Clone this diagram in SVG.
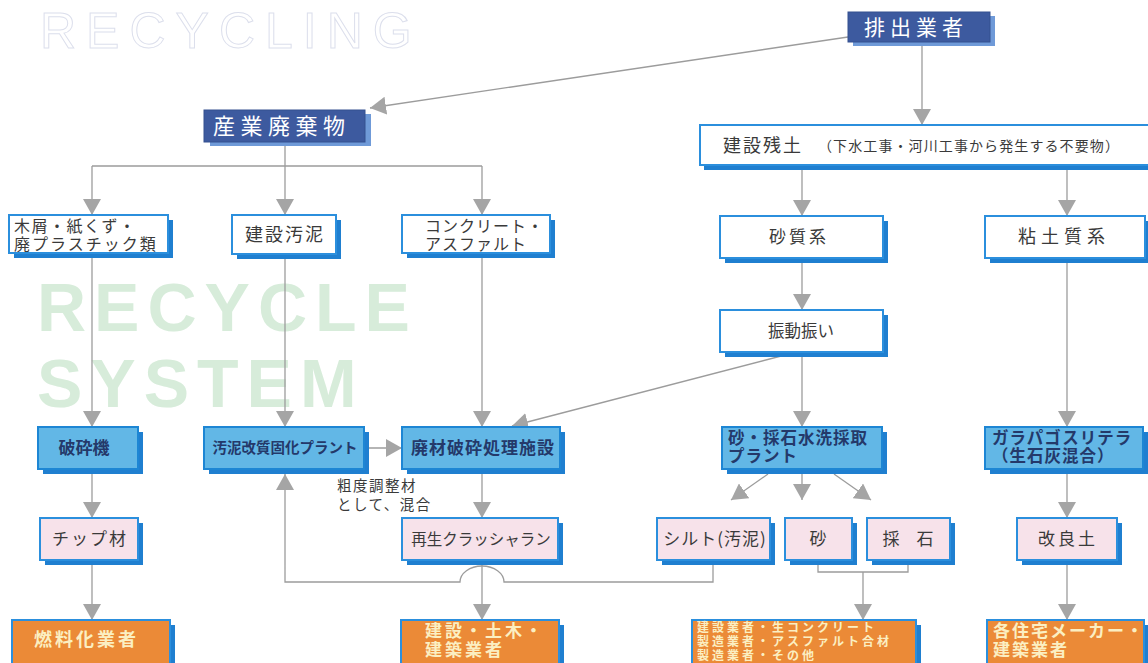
<svg xmlns="http://www.w3.org/2000/svg" width="1148" height="663" viewBox="0 0 1148 663">
<style>
.ln{stroke:#9c9c9c;stroke-width:1.3;fill:none}
.sh{fill:#1f7fd0}
.dsh{fill:#6f9ad8}
.dbox{fill:#3d5a9f;stroke:#34508f;stroke-width:1}
.wbox{fill:#ffffff;stroke:#2b8fdd;stroke-width:2}
.lbox{fill:#62b7e6;stroke:#1d86d4;stroke-width:2}
.pbox{fill:#f7e2ea;stroke:#2b8fdd;stroke-width:2}
.obox{fill:#eb8a37;stroke:#2b8fdd;stroke-width:2}
.t{font-family:"Noto Sans CJK JP","Noto Sans CJK SC",sans-serif;fill:#3a3a3a}
.tw{font-family:"Noto Sans CJK JP","Noto Sans CJK SC",sans-serif;fill:#ffffff}
.tn{font-family:"Noto Sans CJK JP","Noto Sans CJK SC",sans-serif;fill:#24396a;font-weight:700}
.ty{font-family:"Noto Sans CJK JP","Noto Sans CJK SC",sans-serif;fill:#fbefc2;font-weight:700}
.ml{font-family:"Liberation Sans","Noto Sans CJK JP","Noto Sans CJK SC",sans-serif}
.m{text-anchor:middle}
</style>
<defs>
<marker id="ah" viewBox="0 0 16 18" refX="16" refY="9" markerWidth="16" markerHeight="18" markerUnits="userSpaceOnUse" orient="auto"><path d="M0,0 L16,9 L0,18 Z" fill="#a5a5a5"/></marker>
</defs>
<rect width="1148" height="663" fill="#ffffff"/>
<!-- watermarks -->
<text x="40" y="48" font-family="Liberation Sans, sans-serif" font-size="50" letter-spacing="10" fill="none" stroke="#dcdfec" stroke-width="1">RECYCLING</text>
<text fill="#d7ecda" font-family="Liberation Sans, sans-serif" font-weight="700" font-size="68" letter-spacing="8"><tspan x="37" y="331">RECYCLE</tspan><tspan x="37" y="407">SYSTEM</tspan></text>
<!-- connectors -->
<g id="connectors">
<path class="ln" marker-end="url(#ah)" d="M848,37 L370,108"/>
<path class="ln" marker-end="url(#ah)" d="M922,46 L922,125"/>
<path class="ln" d="M285,146 L285,166 M92,166 L482,166"/>
<path class="ln" marker-end="url(#ah)" d="M92,166 L92,215"/>
<path class="ln" marker-end="url(#ah)" d="M285,166 L285,215"/>
<path class="ln" marker-end="url(#ah)" d="M482,166 L482,215"/>
<path class="ln" marker-end="url(#ah)" d="M802,170 L802,216"/>
<path class="ln" marker-end="url(#ah)" d="M1067,170 L1067,216"/>
<path class="ln" marker-end="url(#ah)" d="M802,262 L802,310"/>
<path class="ln" marker-end="url(#ah)" d="M802,356 L802,427"/>
<path class="ln" marker-end="url(#ah)" d="M785,355 L512,426"/>
<path class="ln" marker-end="url(#ah)" d="M92,258 L92,427"/>
<path class="ln" marker-end="url(#ah)" d="M285,258 L285,427"/>
<path class="ln" marker-end="url(#ah)" d="M482,258 L482,427"/>
<path class="ln" marker-end="url(#ah)" d="M369,448 L402,448"/>
<path class="ln" marker-end="url(#ah)" d="M1067,262 L1067,427"/>
<path class="ln" marker-end="url(#ah)" d="M768,474 L731,500"/>
<path class="ln" marker-end="url(#ah)" d="M802,474 L802,500"/>
<path class="ln" marker-end="url(#ah)" d="M834,474 L871,500"/>
<path class="ln" marker-end="url(#ah)" d="M1067,474 L1067,518"/>
<path class="ln" marker-end="url(#ah)" d="M92,474 L92,518"/>
<path class="ln" marker-end="url(#ah)" d="M482,474 L482,518"/>
<path class="ln" marker-end="url(#ah)" d="M92,565 L92,620"/>
<path class="ln" marker-end="url(#ah)" d="M482,565 L482,620"/>
<path class="ln" d="M818,565 L818,572 L908,572 L908,565"/>
<path class="ln" marker-end="url(#ah)" d="M863,572 L863,620"/>
<path class="ln" marker-end="url(#ah)" d="M1067,565 L1067,620"/>
<path class="ln" marker-end="url(#ah)" d="M713,565 L713,582 L504,582 A22,16 0 0 0 460,582 L285,582 L285,474"/>
</g>
<!-- nodes -->
<g id="n-haishutsu"><rect class="dsh" x="853" y="16" width="142" height="30"/><rect class="dbox" x="848" y="12" width="142" height="30"/><text class="tw" x="864" y="35" font-size="21" letter-spacing="5">排出業者</text></g>
<g id="n-sangyo"><rect class="dsh" x="210" y="114" width="161" height="32"/><rect class="dbox" x="204" y="110" width="161" height="32"/><text class="tw" x="213" y="134" font-size="22" letter-spacing="5.5">産業廃棄物</text></g>
<g id="n-zando"><rect class="sh" x="704" y="130" width="450" height="40"/><rect class="wbox" x="700" y="125" width="450" height="40"/><text class="t" x="723" y="152" font-size="18" letter-spacing="2">建設残土</text><text class="t" x="818" y="151" font-size="14" letter-spacing="1.1">（下水工事・河川工事から発生する不要物）</text></g>
<g id="n-mokuzu"><rect class="sh" x="14" y="220" width="159" height="38"/><rect class="wbox" x="9" y="215" width="159" height="38"/><text class="t ml" font-size="16"><tspan x="14" y="232" letter-spacing="1.5">木屑・紙くず・</tspan><tspan x="14" y="250" letter-spacing="2">廃プラスチック類</tspan></text></g>
<g id="n-odei"><rect class="sh" x="237" y="220" width="104" height="39"/><rect class="wbox" x="232" y="215" width="104" height="39"/><text class="t m" x="285" y="241" font-size="18" letter-spacing="2">建設汚泥</text></g>
<g id="n-concrete"><rect class="sh" x="407" y="220" width="148" height="38"/><rect class="wbox" x="402" y="215" width="148" height="38"/><text class="t ml" font-size="16" letter-spacing="1"><tspan x="425" y="232">コンクリート・</tspan><tspan x="425" y="250">アスファルト</tspan></text></g>
<g id="n-sashitsu"><rect class="sh" x="725" y="221" width="163" height="42"/><rect class="wbox" x="720" y="216" width="163" height="42"/><text class="t m" x="799" y="243" font-size="17" letter-spacing="3">砂質系</text></g>
<g id="n-nendo"><rect class="sh" x="990" y="221" width="160" height="42"/><rect class="wbox" x="985" y="216" width="160" height="42"/><text class="t m" x="1064" y="243" font-size="18" letter-spacing="5">粘土質系</text></g>
<g id="n-shindo"><rect class="sh" x="725" y="315" width="163" height="42"/><rect class="wbox" x="720" y="310" width="163" height="42"/><text class="t m" x="801" y="337" font-size="16.5">振動振い</text></g>
<g id="n-hasaiki"><rect class="sh" x="43" y="432" width="100" height="42"/><rect class="lbox" x="38" y="427" width="100" height="42"/><text class="tn m" x="84" y="454" font-size="17">破砕機</text></g>
<g id="n-odeiplant"><rect class="sh" x="209" y="432" width="160" height="42"/><rect class="lbox" x="204" y="427" width="160" height="42"/><text class="tn m" x="285" y="453" font-size="14.5">汚泥改質固化プラント</text></g>
<g id="n-haizai"><rect class="sh" x="407" y="432" width="158" height="42"/><rect class="lbox" x="402" y="427" width="158" height="42"/><text class="tn m" x="483" y="454" font-size="17" letter-spacing="1">廃材破砕処理施設</text></g>
<g id="n-suisen"><rect class="sh" x="727" y="432" width="160" height="42"/><rect class="lbox" x="722" y="427" width="160" height="42"/><text class="tn ml" font-size="16.5" letter-spacing="1"><tspan x="728" y="443.5">砂・採石水洗採取</tspan><tspan x="728" y="462">プラント</tspan></text></g>
<g id="n-garapago"><rect class="sh" x="990" y="432" width="158" height="42"/><rect class="lbox" x="985" y="427" width="158" height="42"/><text class="tn ml" font-size="16.5" letter-spacing="1"><tspan x="992" y="443.5">ガラパゴスリテラ</tspan><tspan x="992" y="462">（生石灰混合）</tspan></text></g>
<g id="n-chip"><rect class="sh" x="45" y="523" width="98" height="42"/><rect class="pbox" x="40" y="518" width="98" height="42"/><text class="t m" x="90" y="545" font-size="17" letter-spacing="2">チップ材</text></g>
<g id="n-crusher"><rect class="sh" x="407" y="523" width="156" height="42"/><rect class="pbox" x="402" y="518" width="156" height="42"/><text class="t m" x="481" y="545" font-size="15.5">再生クラッシャラン</text></g>
<g id="n-silt"><rect class="sh" x="662" y="523" width="113" height="42"/><rect class="pbox" x="657" y="518" width="113" height="42"/><text class="t m" x="715" y="545" font-size="17" letter-spacing="1">シルト(汚泥)</text></g>
<g id="n-suna"><rect class="sh" x="790" y="523" width="67" height="42"/><rect class="pbox" x="785" y="518" width="67" height="42"/><text class="t m" x="818" y="545" font-size="17">砂</text></g>
<g id="n-saiseki"><rect class="sh" x="872" y="523" width="83" height="42"/><rect class="pbox" x="867" y="518" width="83" height="42"/><text class="t m" x="908" y="545" font-size="17">採　石</text></g>
<g id="n-kairyo"><rect class="sh" x="1022" y="523" width="100" height="42"/><rect class="pbox" x="1017" y="518" width="100" height="42"/><text class="t m" x="1068" y="545" font-size="17" letter-spacing="3">改良土</text></g>
<g id="n-nenryo"><rect class="sh" x="17" y="625" width="158" height="50"/><rect class="obox" x="12" y="620" width="158" height="50"/><text class="ty" x="34" y="646" font-size="18" letter-spacing="3">燃料化業者</text></g>
<g id="n-kensetsu"><rect class="sh" x="406" y="625" width="158" height="50"/><rect class="obox" x="401" y="620" width="158" height="50"/><text class="ty ml" font-size="17" letter-spacing="3"><tspan x="425" y="637">建設・土木・</tspan><tspan x="425" y="656">建築業者</tspan></text></g>
<g id="n-seizo"><rect class="sh" x="697" y="625" width="224" height="50"/><rect class="obox" x="692" y="620" width="224" height="50"/><text class="ty ml" font-size="12" letter-spacing="3"><tspan x="697" y="632">建設業者・生コンクリート</tspan><tspan x="697" y="646">製造業者・アスファルト合材</tspan><tspan x="697" y="660">製造業者・その他</tspan></text></g>
<g id="n-jutaku"><rect class="sh" x="992" y="625" width="157" height="50"/><rect class="obox" x="987" y="620" width="157" height="50"/><text class="ty ml" font-size="17" letter-spacing="2"><tspan x="993" y="637">各住宅メーカー・</tspan><tspan x="993" y="656">建築業者</tspan></text></g>
<!-- free label -->
<text class="t ml" font-size="14.5" letter-spacing="1.5"><tspan x="337" y="491">粗度調整材</tspan><tspan x="337" y="510">として、混合</tspan></text>
</svg>
